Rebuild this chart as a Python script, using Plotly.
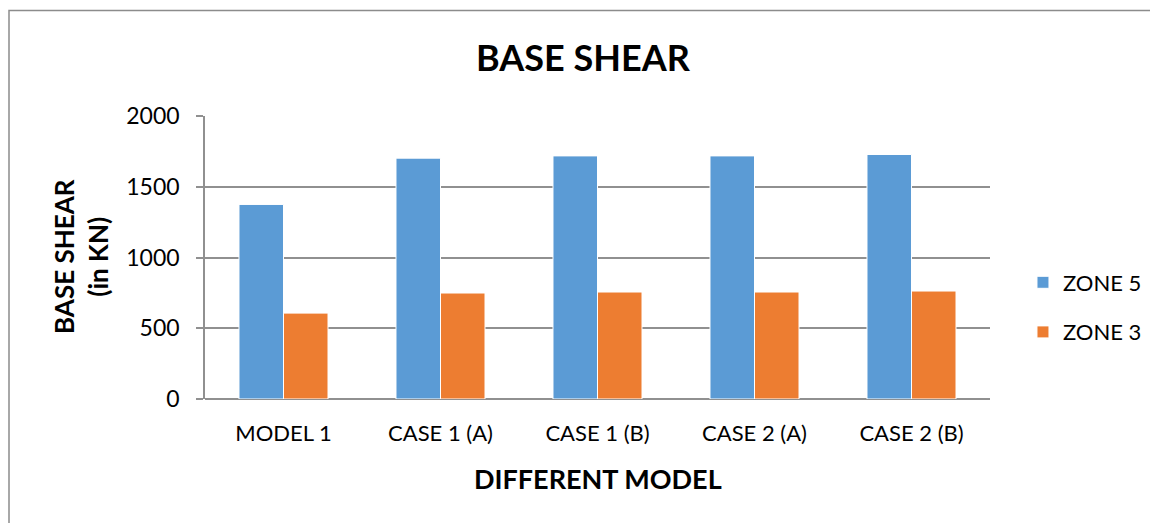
import plotly.graph_objects as go

categories = ["MODEL 1", "CASE 1 (A)", "CASE 1 (B)", "CASE 2 (A)", "CASE 2 (B)"]
zone5 = [1375, 1702, 1718, 1718, 1728]
zone3 = [607, 749, 756, 756, 763]
y_ticks = [0, 500, 1000, 1500, 2000]

FONT = "Lato"
GRID = "#909090"

fig = go.Figure()
fig.add_trace(go.Bar(x=categories, y=zone5, name="ZONE 5", legendgroup="a",
                     marker=dict(color="#5B9BD5", line=dict(color="white", width=1))))
fig.add_trace(go.Bar(x=categories, y=zone3, name="ZONE 3", legendgroup="b",
                     marker=dict(color="#ED7D31", line=dict(color="white", width=1))))

# page body has an 8px margin, so layout is shifted by -8px
fig.update_layout(
    width=1158, height=523,
    margin=dict(l=197, r=176, t=108, b=132),
    paper_bgcolor="white", plot_bgcolor="white",
    font=dict(family=FONT, color="black", size=22),
    barmode="group", bargap=0.433, bargroupgap=0.0,
    title=dict(text="<b>BASE SHEAR</b>", x=575 / 1158, xanchor="center",
               y=1 - 50 / 523, yanchor="middle", yref="container",
               font=dict(family=FONT, size=36, color="black")),
    legend=dict(x=1.042, xanchor="left", y=(399 - 307.5) / 283, yanchor="middle",
                font=dict(family=FONT, size=22, color="black"),
                tracegroupgap=18, itemwidth=30, bgcolor="rgba(0,0,0,0)"),
    showlegend=True,
)

fig.update_xaxes(showline=False, showgrid=False, ticks="",
                 tickfont=dict(family=FONT, size=22, color="black"),
                 ticklabelstandoff=19)
fig.update_yaxes(range=[0, 2000], tickvals=y_ticks, showgrid=True, gridcolor=GRID,
                 gridwidth=1.5, showline=True, linecolor=GRID, linewidth=1.5,
                 ticks="outside", ticklen=7, tickcolor=GRID, tickwidth=1.5,
                 tickfont=dict(family=FONT, size=23, color="black"),
                 ticklabelstandoff=12, zeroline=True, zerolinecolor=GRID, zerolinewidth=1.5)

fig.add_annotation(text="<b>BASE SHEAR<br>(in KN)</b>", textangle=-90,
                   xref="paper", yref="paper", x=(81 - 205) / 785, y=(399 - 257) / 283,
                   xanchor="center", yanchor="middle", showarrow=False,
                   font=dict(family=FONT, size=26, color="black"))
fig.add_annotation(text="<b>DIFFERENT MODEL</b>",
                   xref="paper", yref="paper", x=0.5, y=(399 - 478) / 283,
                   xanchor="center", yanchor="middle", showarrow=False,
                   font=dict(family=FONT, size=27, color="black"))

fig.add_shape(type="rect", xref="paper", yref="paper",
              x0=(9 - 205) / 785, x1=(1250 - 205) / 785,
              y0=(399 - 600) / 283, y1=(399 - 10.5) / 283,
              line=dict(color="#8c8c8c", width=1.5), fillcolor="rgba(0,0,0,0)", layer="below")

fig.write_html("out.html")
